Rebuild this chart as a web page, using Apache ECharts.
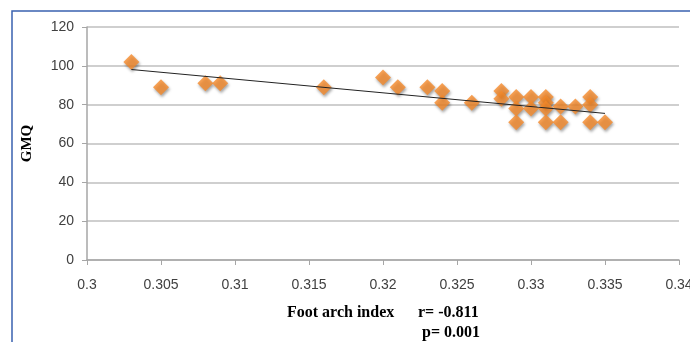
<!DOCTYPE html>
<html><head><meta charset="utf-8">
<script src="https://cdn.jsdelivr.net/npm/echarts@6/dist/echarts.min.js"></script>
<style>html,body{margin:0;padding:0;background:#fff}#c{width:690px;height:342px}</style>
</head><body><div id="c"></div>
<script>
const archIndex = [0.303,0.305,0.308,0.309,0.316,0.320,0.321,0.323,0.324,0.324,0.326,0.328,0.328,0.329,0.329,0.329,0.330,0.330,0.331,0.331,0.331,0.331,0.332,0.332,0.333,0.334,0.334,0.334,0.335];
const gmq =       [102,  89,   91,   91,   89,   94,   89,   89,   87,   81,   81,   87,   83,   84,   78,   71,   84,   78,   84,   81,   78,   71,   79,   71,   79,   84,   80,   71,   71];
const trendX = [0.303, 0.335];
const trendY = [98.1, 75.5];
const xTicks = {min:0.3, max:0.34, step:0.005};
const yTicks = {min:0, max:120, step:20};

const chart = echarts.init(document.getElementById('c'));
chart.setOption({
  animation:false,
  grid:{left:87, right:11, top:27, bottom:82, containLabel:false, outerBoundsMode:'none'},
  xAxis:{type:'value', min:xTicks.min, max:xTicks.max, interval:xTicks.step,
    axisLine:{show:true, lineStyle:{color:'#a6a6a6', width:1.5}},
    axisTick:{show:true, length:5, lineStyle:{color:'#a6a6a6'}},
    splitLine:{show:false},
    axisLabel:{color:'#404040', fontSize:14, fontFamily:'Liberation Sans', margin:18,
      formatter:v=>String(parseFloat(v.toFixed(3)))}},
  yAxis:{type:'value', min:yTicks.min, max:yTicks.max, interval:yTicks.step,
    name:'GMQ', nameLocation:'middle', nameGap:52, nameRotate:90,
    nameTextStyle:{fontFamily:'Liberation Serif', fontWeight:'bold', fontSize:15, color:'#000'},
    axisLine:{show:true, lineStyle:{color:'#a6a6a6', width:1.5}},
    axisTick:{show:true, length:5, lineStyle:{color:'#a6a6a6'}},
    splitLine:{lineStyle:{color:'#bfbfbf', width:1.5}},
    axisLabel:{color:'#404040', fontSize:14, fontFamily:'Liberation Sans', margin:13}},
  graphic:[
    {type:'rect', shape:{x:12, y:11, width:700, height:360}, style:{fill:'none', stroke:'#3a62b0', lineWidth:1.5}, silent:true},
    {type:'text', left:287, top:305, style:{text:'Foot arch index', font:'bold 16px "Liberation Serif"', fill:'#000'}},
    {type:'text', left:418, top:305, style:{text:'r= -0.811', font:'bold 16px "Liberation Serif"', fill:'#000'}},
    {type:'text', left:422, top:325, style:{text:'p= 0.001', font:'bold 16px "Liberation Serif"', fill:'#000'}}
  ],
  series:[
    {type:'line', data:trendX.map((x,i)=>[x,trendY[i]]), symbol:'none', lineStyle:{color:'#222', width:1}, z:3},
    {type:'scatter', data:archIndex.map((x,i)=>[x,gmq[i]]), symbol:'diamond', symbolSize:16,
      itemStyle:{color:'#f5892a', shadowBlur:3, shadowColor:'rgba(0,0,0,0.45)', shadowOffsetX:1, shadowOffsetY:2}, z:2}
  ]
});
</script></body></html>
